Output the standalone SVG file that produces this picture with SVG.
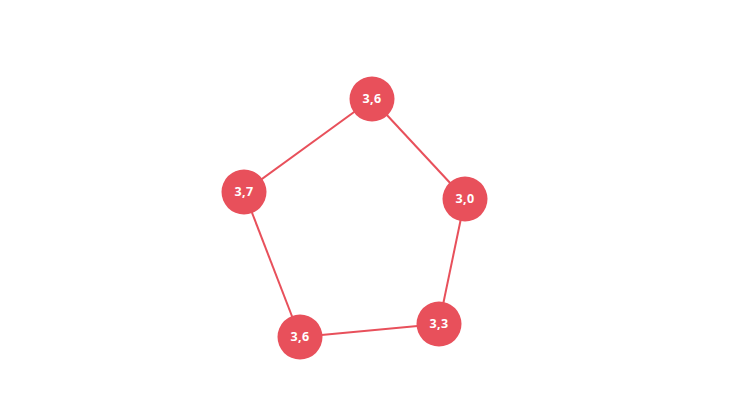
<svg xmlns="http://www.w3.org/2000/svg" width="745" height="419" viewBox="0 0 745 419">
<style>
.edge{stroke:#E8505B;stroke-width:2;fill:none}
.node circle{fill:#E8505B}
.node text{fill:#fff;font-family:"Open Sans","Liberation Sans",sans-serif;font-weight:700;font-size:12.5px;letter-spacing:0.3px;text-anchor:middle;dominant-baseline:central}
</style>
<rect width="745" height="419" fill="#fff"/>
<g id="connectors">
<line class="edge" x1="372" y1="99" x2="465" y2="199"/>
<line class="edge" x1="465" y1="199" x2="439" y2="324"/>
<line class="edge" x1="439" y1="324" x2="300" y2="337"/>
<line class="edge" x1="300" y1="337" x2="244" y2="192"/>
<line class="edge" x1="244" y1="192" x2="372" y2="99"/>
</g>
<g id="n1" class="node"><circle cx="372" cy="99" r="22.5"/><text x="372" y="98.5">3,6</text></g>
<g id="n2" class="node"><circle cx="465" cy="199" r="22.5"/><text x="465" y="198.5">3,0</text></g>
<g id="n3" class="node"><circle cx="439" cy="324" r="22.5"/><text x="439" y="323.5">3,3</text></g>
<g id="n4" class="node"><circle cx="300" cy="337" r="22.5"/><text x="300" y="336.5">3,6</text></g>
<g id="n5" class="node"><circle cx="244" cy="192" r="22.5"/><text x="244" y="191.5">3,7</text></g>
</svg>
